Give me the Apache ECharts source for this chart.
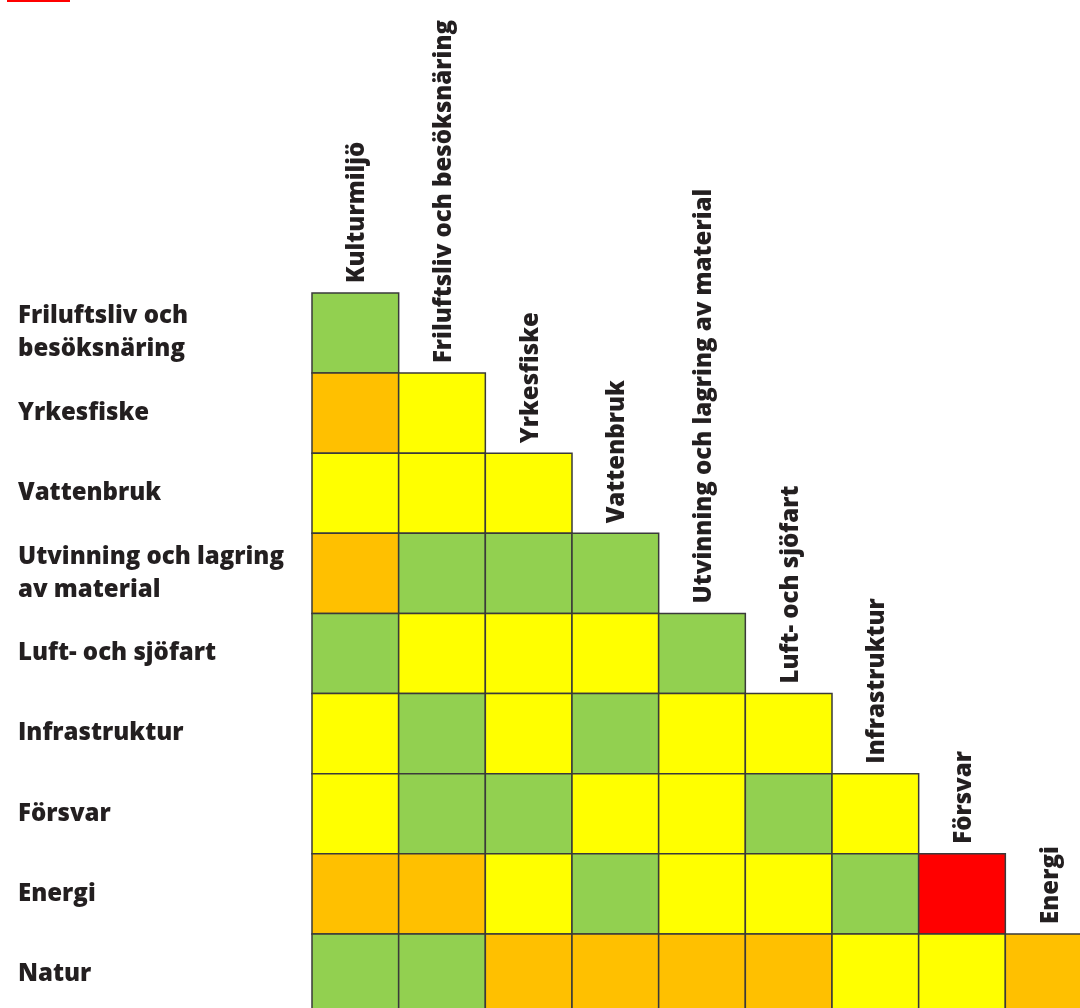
<!DOCTYPE html>
<html>
<head>
<meta charset="utf-8">
<script src="https://cdn.jsdelivr.net/npm/echarts@6/dist/echarts.min.js"></script>
<style>
  html, body { margin: 0; padding: 0; background: #fff; }
  #main { width: 1080px; height: 1008px; }
</style>
</head>
<body>
<div id="main"></div>
<script>
// rader (y) och kolumner (x)
const rowNames = [
  'Friluftsliv och\nbesöksnäring',
  'Yrkesfiske',
  'Vattenbruk',
  'Utvinning och lagring\nav material',
  'Luft- och sjöfart',
  'Infrastruktur',
  'Försvar',
  'Energi',
  'Natur'
];
const colNames = [
  'Kulturmiljö',
  'Friluftsliv och besöksnäring',
  'Yrkesfiske',
  'Vattenbruk',
  'Utvinning och lagring av material',
  'Luft- och sjöfart',
  'Infrastruktur',
  'Försvar',
  'Energi'
];
// konfliktnivå per cell, rad för rad (triangel)
const matrix = [
  ['grön'],
  ['orange', 'gul'],
  ['gul', 'gul', 'gul'],
  ['orange', 'grön', 'grön', 'grön'],
  ['grön', 'gul', 'gul', 'gul', 'grön'],
  ['gul', 'grön', 'gul', 'grön', 'gul', 'gul'],
  ['gul', 'grön', 'grön', 'gul', 'gul', 'grön', 'gul'],
  ['orange', 'orange', 'gul', 'grön', 'gul', 'gul', 'grön', 'röd'],
  ['grön', 'grön', 'orange', 'orange', 'orange', 'orange', 'gul', 'gul', 'orange']
];

const levelColor = {
  'grön': '#92d050',
  'gul': '#ffff00',
  'orange': '#ffc000',
  'röd': '#ff0000'
};

const cells = [];
matrix.forEach((row, r) => {
  row.forEach((lvl, c) => cells.push([c, r, lvl]));
});
const diag = colNames.map((n, i) => [i, i]);

const FONT = '800 24px "Open Sans", sans-serif';
const TEXT = '#231f20';

const chart = echarts.init(document.getElementById('main'));
chart.setOption({
  animation: false,
  grid: { left: 312, top: 293, width: 780, height: 721, outerBoundsMode: 'none', containLabel: false },
  xAxis: {
    type: 'category',
    data: colNames,
    show: false
  },
  yAxis: {
    type: 'category',
    data: rowNames,
    inverse: true,
    axisLine: { show: false },
    axisTick: { show: false },
    splitLine: { show: false },
    axisLabel: {
      margin: 294,
      align: 'left',
      color: TEXT,
      fontFamily: '"Open Sans", sans-serif',
      fontWeight: 800,
      fontSize: 24,
      lineHeight: 33,
      padding: [4, 0, 0, 0]
    }
  },
  graphic: [
    { type: 'rect', left: 7, top: 0, shape: { width: 63, height: 2 }, style: { fill: '#ff0000' } }
  ],
  series: [
    {
      type: 'custom',
      data: cells,
      clip: false,
      renderItem: (params, api) => {
        const c = api.coord([api.value(0), api.value(1)]);
        const s = api.size([1, 1]);
        const lvl = cells[params.dataIndex][2];
        return {
          type: 'rect',
          shape: { x: c[0] - s[0] / 2, y: c[1] - s[1] / 2, width: s[0], height: s[1] },
          style: { fill: levelColor[lvl], stroke: '#3a3a3a', lineWidth: 1.5 }
        };
      }
    },
    {
      type: 'custom',
      data: diag,
      clip: false,
      renderItem: (params, api) => {
        const c = api.coord([api.value(0), api.value(1)]);
        const s = api.size([1, 1]);
        return {
          type: 'text',
          x: c[0] + 2,
          y: c[1] - s[1] / 2 - 10,
          rotation: Math.PI / 2,
          style: {
            text: colNames[params.dataIndex],
            font: FONT,
            fill: TEXT,
            align: 'left',
            verticalAlign: 'middle',
            textAlign: 'left',
            textVerticalAlign: 'middle'
          }
        };
      }
    }
  ]
});
</script>
</body>
</html>
